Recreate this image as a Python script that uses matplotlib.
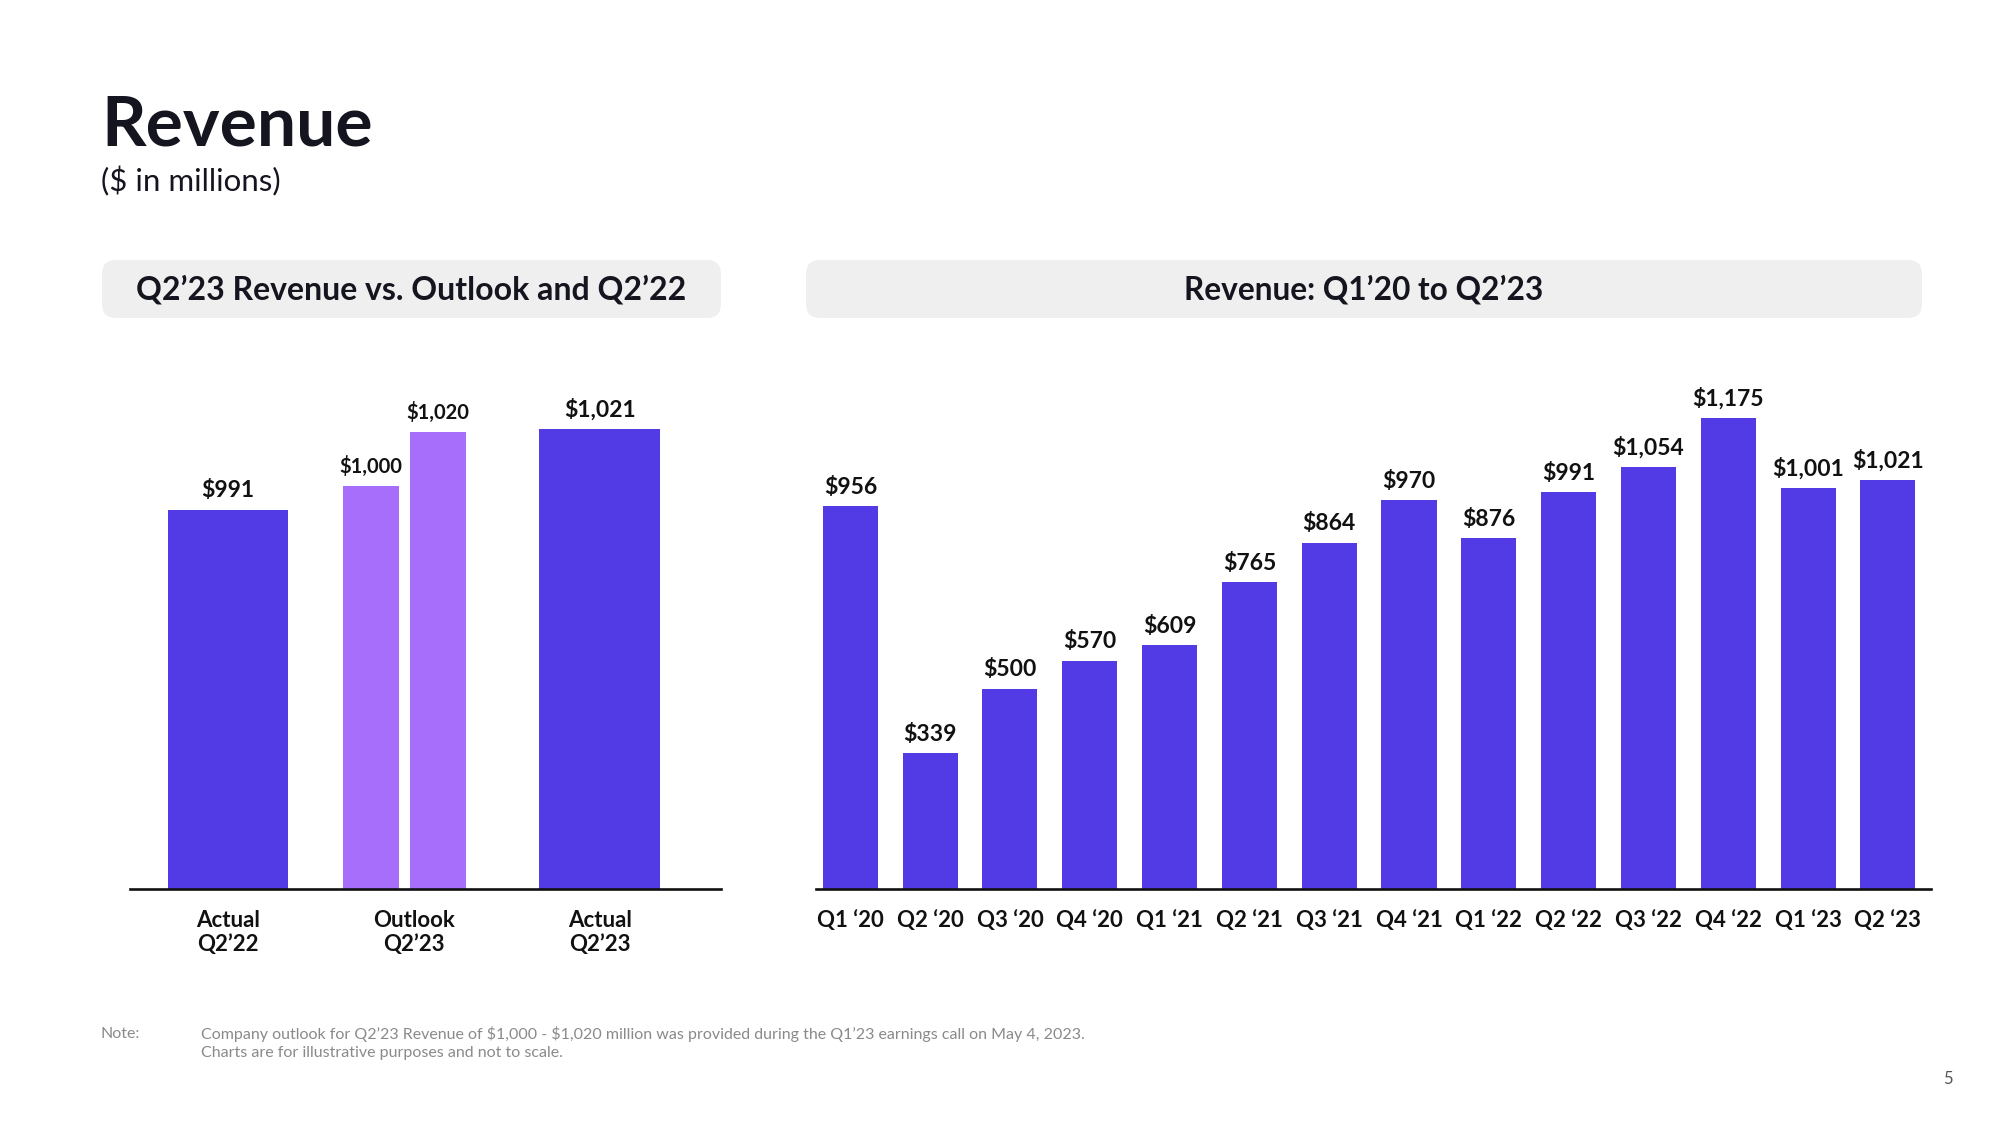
import matplotlib.pyplot as plt
from matplotlib.patches import FancyBboxPatch

plt.rcParams['font.family'] = ['Lato', 'DejaVu Sans']

# left panel: Q2'23 vs outlook and Q2'22
cmp_labels = ["Actual\nQ2’22", "Outlook\nQ2’23", "Actual\nQ2’23"]
actual_vals = [991, 1021]
outlook_vals = [1000, 1020]  # low / high end of the outlook range

# right panel: quarterly revenue
quarters = ["Q1 ‘20", "Q2 ‘20", "Q3 ‘20", "Q4 ‘20", "Q1 ‘21", "Q2 ‘21", "Q3 ‘21",
            "Q4 ‘21", "Q1 ‘22", "Q2 ‘22", "Q3 ‘22", "Q4 ‘22", "Q1 ‘23", "Q2 ‘23"]
revenue = [956, 339, 500, 570, 609, 765, 864, 970, 876, 991, 1054, 1175, 1001, 1021]

PURPLE = '#523BE4'
LILAC = '#A66EFB'
INK = '#15151F'
NOTE = '#8A8A8A'

fig = plt.figure(figsize=(20, 11.25), dpi=100)

# background layer in pixel coords for the page furniture
bg = fig.add_axes([0, 0, 1, 1], zorder=-1)
bg.set_xlim(0, 2000)
bg.set_ylim(1125, 0)
bg.axis('off')

bg.text(101, 145, "Revenue", fontsize=50, fontweight='bold', color=INK, va='baseline')
bg.text(101, 191, r"(\$ in millions)", fontsize=22.5, color=INK, va='baseline')

for x0, x1, title, fs in [(102, 721, "Q2’23 Revenue vs. Outlook and Q2’22", 23),
                          (806, 1922, "Revenue: Q1’20 to Q2’23", 22.8)]:
    bg.add_patch(FancyBboxPatch((x0, 260), x1 - x0, 58,
                                boxstyle="round,pad=0,rounding_size=14",
                                fc='#EFEFF0', ec='none'))
    bg.text((x0 + x1) / 2, 290, title, fontsize=fs, fontweight='bold',
            color=INK, ha='center', va='center')

bg.text(101, 1034, "Note:", fontsize=11.5, color=NOTE, va='center')
bg.text(201, 1034, r"Company outlook for Q2’23 Revenue of \$1,000 - \$1,020 million was "
        "provided during the Q1’23 earnings call on May 4, 2023.",
        fontsize=11.5, color=NOTE, va='center')
bg.text(201, 1053, "Charts are for illustrative purposes and not to scale.",
        fontsize=11.5, color=NOTE, va='center')
bg.text(1948, 1079, "5", fontsize=12, color='#555555', ha='center', va='center')


def style(ax):
    for s in ['top', 'right', 'left']:
        ax.spines[s].set_visible(False)
    ax.spines['bottom'].set_linewidth(1.9)
    ax.spines['bottom'].set_color('#111111')
    ax.set_yticks([])
    ax.tick_params(axis='x', length=0, pad=15, labelsize=16, labelcolor='#111111')
    for t in ax.get_xticklabels():
        t.set_fontweight('bold')


# ---- left chart (not to scale: axis starts above zero)
axL = fig.add_axes([0.065, 0.2098, 0.2955, 0.4969])
axL.set_xlim(-0.527, 2.653)
axL.set_ylim(850.6, 1057.6)
barsA = axL.bar([0, 2], actual_vals, width=0.65, color=PURPLE)
barsO = axL.bar([0.77, 1.13], outlook_vals, width=0.30, color=LILAC)
axL.bar_label(barsA, labels=[f"${v:,}" for v in actual_vals], padding=6,
              fontsize=16.5, fontweight='bold', color='#111111')
axL.bar_label(barsO, labels=[f"${v:,}" for v in outlook_vals], padding=6,
              fontsize=14.5, fontweight='bold', color='#111111')
axL.set_xticks([0, 1, 2])
axL.set_xticklabels(cmp_labels, linespacing=1.2)
style(axL)

# ---- right chart
axR = fig.add_axes([0.408, 0.2098, 0.5575, 0.4969])
axR.set_xlim(-0.43, 13.54)
axR.set_ylim(0, 1395)
xs = list(range(len(quarters)))
barsR = axR.bar(xs, revenue, width=0.69, color=PURPLE)
axR.bar_label(barsR, labels=[f"${v:,}" for v in revenue], padding=6,
              fontsize=16.5, fontweight='bold', color='#111111')
axR.set_xticks(xs)
axR.set_xticklabels(quarters)
style(axR)

fig.savefig('out.png', dpi=100, facecolor='white')
